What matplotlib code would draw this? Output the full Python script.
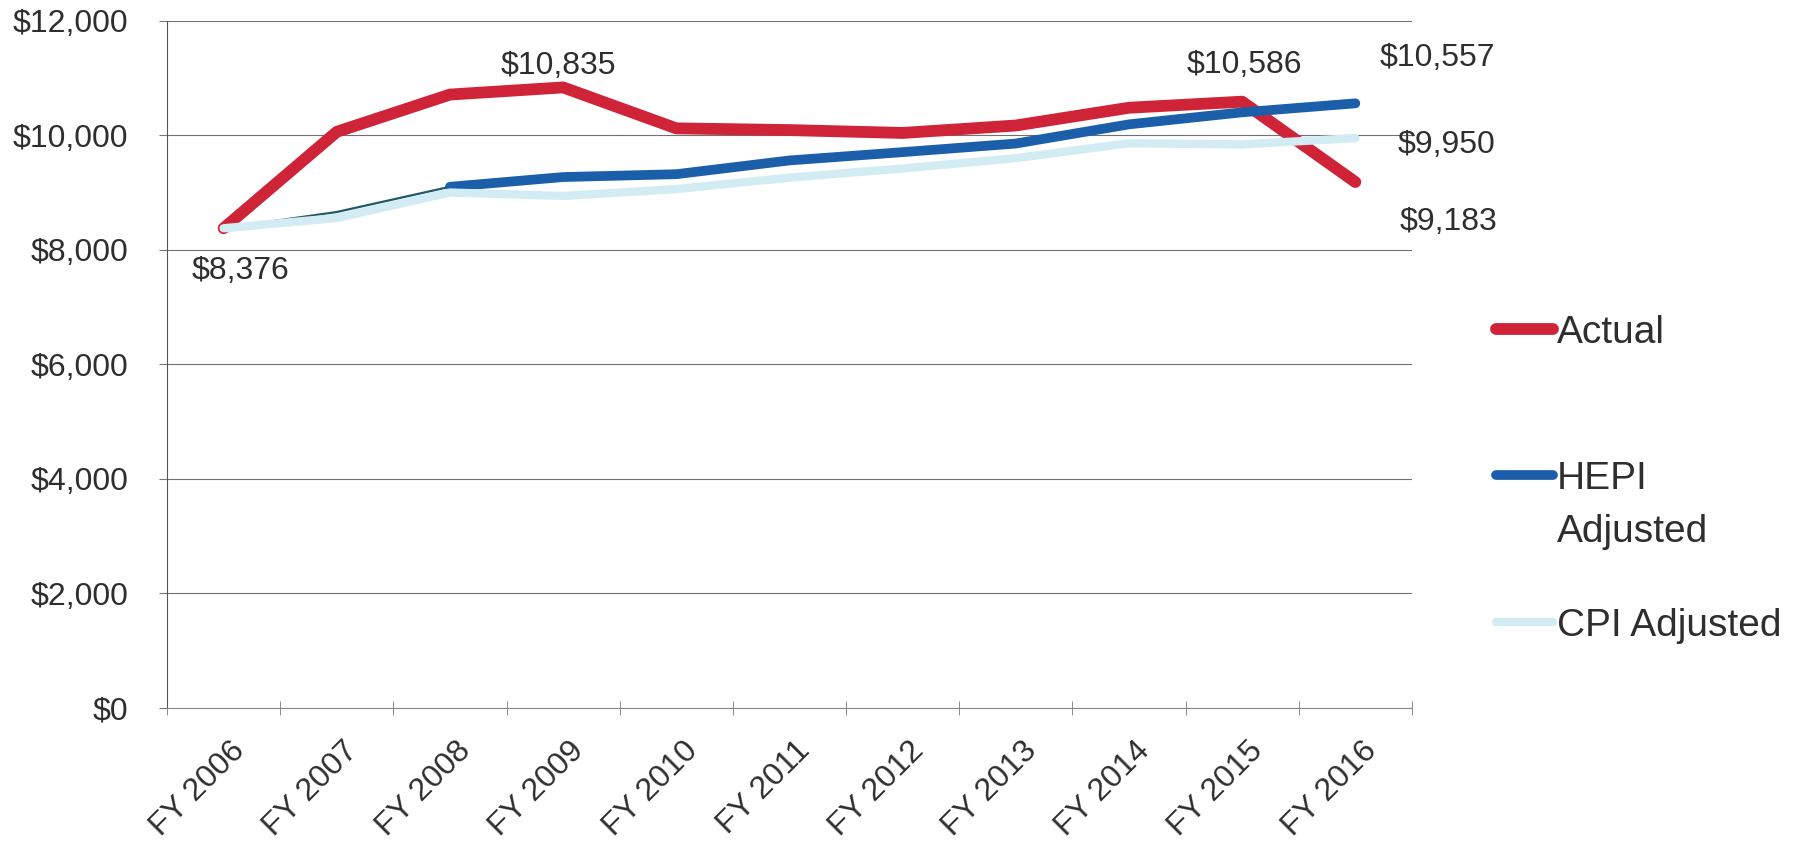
import matplotlib.pyplot as plt
from matplotlib.lines import Line2D
from matplotlib.ticker import FuncFormatter
from matplotlib.transforms import ScaledTranslation

years = ["FY 2006", "FY 2007", "FY 2008", "FY 2009", "FY 2010", "FY 2011",
         "FY 2012", "FY 2013", "FY 2014", "FY 2015", "FY 2016"]
actual = [8376, 10060, 10710, 10835, 10120, 10090, 10040, 10170, 10480, 10586, 9183]
hepi = [8376, 8660, 9100, 9270, 9320, 9560, 9705, 9855, 10190, 10400, 10557]
cpi = [8376, 8555, 9000, 8940, 9060, 9260, 9420, 9600, 9860, 9840, 9950]

RED = "#cf2438"
BLUE = "#1b5ea9"
TEAL = "#1f5a66"
CYAN = "#d3ecf4"
TEXT = "#2e2e2e"

plt.rcParams['font.family'] = ['Liberation Sans', 'DejaVu Sans']

fig = plt.figure(figsize=(18, 8.51), dpi=100)
ax = fig.add_axes([0.0928, 0.168, 0.6916, 0.8077])

x = list(range(len(years)))
line_kw = dict(solid_capstyle='round', solid_joinstyle='round')
ax.plot(x, actual, color=RED, lw=8.5, zorder=3, **line_kw)
# HEPI series: thin trace for the first years, full weight afterwards
ax.plot(x[:3], hepi[:3], color=TEAL, lw=1.6, zorder=4, **line_kw)
ax.plot(x[2:], hepi[2:], color=BLUE, lw=7, zorder=4, **line_kw)
ax.plot(x, cpi, color=CYAN, lw=6, zorder=5, **line_kw)

ax.set_xlim(-0.5, len(years) - 0.5)
ax.set_ylim(0, 12000)
ax.set_yticks(range(0, 12001, 2000))
ax.yaxis.set_major_formatter(FuncFormatter(lambda v, p: f"${v:,.0f}"))
ax.grid(axis='y', color='#707070', lw=0.8)
ax.set_axisbelow(True)
for side in ['top', 'right']:
    ax.spines[side].set_visible(False)
ax.spines['left'].set_color('#555555')
ax.spines['bottom'].set_color('#8a8a8a')

# category labels sit between boundary tick marks
ax.set_xticks(x)
ax.set_xticklabels(years, rotation=45, ha='right', va='top', rotation_mode='anchor')
ax.set_xticks([i - 0.5 for i in range(len(years) + 1)], minor=True)
ax.tick_params(axis='x', which='major', length=0, pad=20, labelsize=23, labelcolor=TEXT)
ax.tick_params(axis='x', which='minor', length=10, direction='inout', color='#777777')
ax.tick_params(axis='y', length=6, color='#777777', pad=22, labelsize=23, labelcolor=TEXT)
for lab in ax.get_xticklabels():
    lab.set_transform(lab.get_transform() + ScaledTranslation(6 / 100, 0, fig.dpi_scale_trans))

# value callouts
def callout(i, series, dx, dy, ha='center'):
    v = series[i]
    ax.annotate(f"${v:,}", xy=(i, v), xytext=(dx, dy), textcoords='offset pixels',
                ha=ha, va='center', fontsize=23, color=TEXT)

callout(0, actual, 17, -43)
callout(3, actual, -5, 21)
callout(9, actual, 2, 37)
callout(10, hepi, 140, 45, ha='right')
callout(10, cpi, 140, -7, ha='right')
callout(10, actual, 142, -40, ha='right')

# legend on the right, HEPI label wraps onto a second line
legend_items = [(["Actual"], RED, 8.5, 0.6134),
                (["HEPI", "Adjusted"], BLUE, 7, 0.4418),
                (["CPI Adjusted"], CYAN, 6, 0.2690)]
for lines, color, lw, y in legend_items:
    fig.add_artist(Line2D([0.831, 0.8628], [y, y], color=color, lw=lw,
                          solid_capstyle='round', transform=fig.transFigure))
    for k, text in enumerate(lines):
        fig.text(0.865, y - k * 0.0623, text, fontsize=28, color=TEXT,
                 ha='left', va='center_baseline')

fig.savefig("out.png", dpi=100)
